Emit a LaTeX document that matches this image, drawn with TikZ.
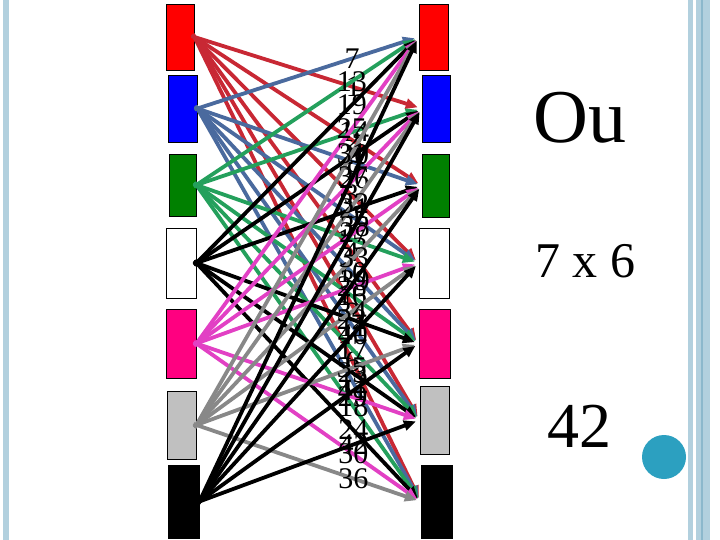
\documentclass[tikz,border=0pt]{standalone}
\usepackage{fontspec}
\setmainfont{Liberation Serif}
\usetikzlibrary{arrows.meta}
\definecolor{bRed}{RGB}{255,0,0}
\definecolor{bBlue}{RGB}{0,0,255}
\definecolor{bGreen}{RGB}{0,128,0}
\definecolor{bPink}{RGB}{255,0,128}
\definecolor{bGray}{RGB}{192,192,192}
\definecolor{lRed}{RGB}{200,40,52}
\definecolor{lBlue}{RGB}{74,106,158}
\definecolor{lGreen}{RGB}{36,160,92}
\definecolor{lPink}{RGB}{226,64,196}
\definecolor{lGray}{RGB}{136,136,136}
\definecolor{frameBlue}{RGB}{178,208,222}
\definecolor{frameDark}{RGB}{140,184,204}
\definecolor{dotBlue}{RGB}{44,160,192}
\begin{document}
\begin{tikzpicture}[x=1pt,y=-1pt,
  box/.style={draw=black, line width=0.8pt, inner sep=0pt},
  conn/.style={line width=3.8pt, shorten >=4pt, shorten <=-3pt, -{Triangle[length=12pt,width=10pt]}},
  lbl/.style={pos=0.7, inner sep=0pt, text=black, font=\fontsize{30}{30}\selectfont},
  side/.style={inner sep=0pt, anchor=base}]
\useasboundingbox (0,0) rectangle (720,540);
\fill[white] (0,0) rectangle (720,540);
% frame stripes
\fill[frameBlue] (3,0) rectangle (9,540);
\fill[frameBlue] (688,0) rectangle (693,540);
\fill[frameBlue] (696,0) rectangle (710,540);
\fill[frameDark] (700.5,0) rectangle (702.5,540);
% left boxes
\node[box, fill=bRed,   minimum width=28pt, minimum height=66pt] (L1) at (180,37) {};
\node[box, fill=bBlue,  minimum width=29pt, minimum height=67pt] (L2) at (182.5,108.5) {};
\node[box, fill=bGreen, minimum width=27pt, minimum height=62pt] (L3) at (182.5,185) {};
\node[box, fill=white,  minimum width=30pt, minimum height=70pt] (L4) at (181,263) {};
\node[box, fill=bPink,  minimum width=30pt, minimum height=69pt] (L5) at (181,343.5) {};
\node[box, fill=bGray,  minimum width=29pt, minimum height=68pt] (L6) at (181.5,425) {};
\node[box, fill=black,  minimum width=31pt, minimum height=73pt] (L7) at (183.5,501.5) {};
% right boxes
\node[box, fill=bRed,   minimum width=29pt, minimum height=66pt] (R1) at (433.5,37) {};
\node[box, fill=bBlue,  minimum width=28pt, minimum height=67pt] (R2) at (436,108.5) {};
\node[box, fill=bGreen, minimum width=27pt, minimum height=63pt] (R3) at (435.5,185.5) {};
\node[box, fill=white,  minimum width=30pt, minimum height=70pt] (R4) at (434,263) {};
\node[box, fill=bPink,  minimum width=31pt, minimum height=69pt] (R5) at (434.5,343.5) {};
\node[box, fill=bGray,  minimum width=29pt, minimum height=68pt] (R6) at (434.5,420) {};
\node[box, fill=black,  minimum width=31pt, minimum height=73pt] (R7) at (436.5,501.5) {};
% connectors
\foreach \i/\ci in {1/lRed,2/lBlue,3/lGreen,4/black,5/lPink,6/lGray,7/black} {
  \foreach \j in {1,...,7} {
    \ifnum\i=\j\relax\else
      \pgfmathtruncatemacro\n{(\i-1)*6+\j-(\j>\i)}
      \draw[conn, draw=\ci] (L\i.east) -- (R\j.west) node[lbl] {\n};
    \fi
  }
}
% side texts
\node[side, font=\fontsize{76}{76}\selectfont] (ou) at (580,143) {Ou};
\node[side, font=\fontsize{50}{50}\selectfont] (mult) at (585,277) {7 x 6};
\node[side, font=\fontsize{64}{64}\selectfont] (res) at (579,447) {42};
\node[circle, fill=dotBlue, minimum size=44pt, inner sep=0pt] (dot) at (664,457) {};
\end{tikzpicture}
\end{document}
